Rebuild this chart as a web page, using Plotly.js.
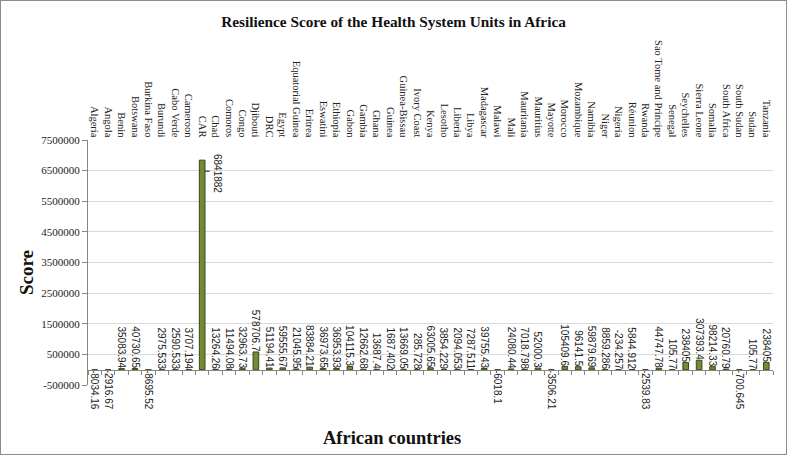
<!DOCTYPE html>
<html>
<head>
<meta charset="utf-8">
<script src="https://cdn.plot.ly/plotly-3.0.1.min.js"></script>
<style>
  body { margin: 0; background: #fff; }
  #grafico { width: 785px; height: 453px; border: 1px solid #8c8c8c; }
</style>
</head>
<body>
<div id="grafico"></div>
<script>
// dados
const paises = [
  'Algeria', 'Angola', 'Benin', 'Botswana', 'Burkina Faso', 'Burundi', 'Cabo Verde',
  'Cameroon', 'CAR', 'Chad', 'Comoros', 'Congo', 'Djibouti', 'DRC', 'Egypt',
  'Equatorial Guinea', 'Eritrea', 'Eswatini', 'Ethiopia', 'Gabon', 'Gambia', 'Ghana',
  'Guinea', 'Guinea-Bissau', 'Ivory Coast', 'Kenya', 'Lesotho', 'Liberia', 'Libya',
  'Madagascar', 'Malawi', 'Mali', 'Mauritania', 'Mauritius', 'Mayotte', 'Morocco',
  'Mozambique', 'Namibia', 'Niger', 'Nigeria', 'Réunion', 'Rwanda',
  'Sao Tome and Principe', 'Senegal', 'Seychelles', 'Sierra Leone', 'Somalia',
  'South Africa', 'South Sudan', 'Sudan', 'Tanzania'
];
const scores = [
  -8034.16, -2916.67, 35083.94, 40730.65, -8695.52, 2975.533, 2590.533,
  3707.194, 6841882, 13264.26, 11494.08, 32963.73, 578706.7, 51194.41, 59555.67,
  21045.95, 83884.21, 36973.65, 36953.93, 104115.3, 12662.68, 13687.4,
  1687.402, 13669.05, 285.728, 63005.65, 3854.229, 2094.053, 7287.511,
  39755.43, -6018.1, 24080.44, 7018.798, 52000.3, -3506.21, 105409.6,
  96141.5, 59879.69, 8859.286, -234.257, 5844.912, -2539.83,
  44747.78, 105.77, 238405, 307393.4, 98214.33,
  20760.79, -700.645, 105.77, 238405
];
const yTicks = [-500000, 500000, 1500000, 2500000, 3500000, 4500000, 5500000, 6500000, 7500000];

const serifa = 'Liberation Serif, Times New Roman, serif';
const semSerifa = 'Liberation Sans, Arial, sans-serif';
const maior = scores.indexOf(Math.max(...scores));

const barras = {
  x: paises,
  y: scores,
  type: 'bar',
  width: 0.42,
  marker: {
    color: '#738a37',
    line: { color: '#3a4618', width: 1 }
  },
  text: scores.map(v => String(v)),
  textposition: scores.map((v, i) => i === maior ? 'none' : 'outside'),
  textangle: 90,
  constraintext: 'none',
  cliponaxis: false,
  textfont: { family: semSerifa, size: 10, color: '#222' },
  hovertemplate: '%{x}: %{y}<extra></extra>'
};

// traço vazio só para desenhar o eixo do zero com as marcas entre categorias
const eixoZero = {
  x: paises.map((p, i) => i),
  y: paises.map(() => 0),
  xaxis: 'x2',
  mode: 'none',
  type: 'scatter',
  hoverinfo: 'skip',
  showlegend: false
};

const layout = {
  width: 785,
  height: 453,
  margin: { t: 139, b: 69, l: 87, r: 13 },
  paper_bgcolor: '#fff',
  plot_bgcolor: '#fff',
  showlegend: false,
  title: {
    text: '<b>Resilience Score of the Health System Units in Africa</b>',
    font: { family: serifa, size: 15.3, color: '#111' },
    x: 0.5,
    xanchor: 'center',
    yref: 'container',
    y: 1 - 21 / 453,
    yanchor: 'middle'
  },
  xaxis: {
    type: 'category',
    side: 'top',
    tickangle: 90,
    ticks: '',
    showline: false,
    showgrid: false,
    zeroline: false,
    tickfont: { family: serifa, size: 10.5, color: '#222' },
    range: [-0.5, paises.length - 0.5]
  },
  xaxis2: {
    overlaying: 'x',
    anchor: 'free',
    position: 500000 / 8000000,
    range: [-0.5, paises.length - 0.5],
    tickmode: 'array',
    tickvals: paises.map((p, i) => i - 0.5).concat([paises.length - 0.5]),
    showticklabels: false,
    ticks: 'outside',
    ticklen: 4,
    tickcolor: '#868686',
    showline: true,
    linecolor: '#868686',
    linewidth: 1,
    showgrid: false,
    zeroline: false
  },
  yaxis: {
    range: [-500000, 7500000],
    tickmode: 'array',
    tickvals: yTicks,
    ticktext: yTicks.map(v => String(v)),
    tickfont: { family: serifa, size: 11, color: '#222' },
    ticks: 'outside',
    ticklen: 5,
    tickcolor: '#868686',
    showline: true,
    linecolor: '#868686',
    gridcolor: '#d9d9d9',
    zeroline: false
  },
  annotations: [
    {
      text: '<b>African countries</b>',
      xref: 'paper', yref: 'paper',
      x: (391 - 87) / 685, y: -0.215,
      xanchor: 'center', yanchor: 'middle',
      showarrow: false,
      font: { family: serifa, size: 18.5, color: '#111' }
    },
    {
      text: '<b>Score</b>',
      xref: 'paper', yref: 'paper',
      x: (25 - 87) / 685, y: (385 - 272) / 245,
      xanchor: 'center', yanchor: 'middle',
      textangle: -90,
      showarrow: false,
      font: { family: serifa, size: 19, color: '#111' }
    },
    {
      // rótulo do CAR deslocado para o lado, como no original
      text: String(scores[maior]),
      x: paises[maior],
      y: scores[maior],
      xref: 'x', yref: 'y',
      textangle: 90,
      showarrow: false,
      xanchor: 'left',
      yanchor: 'top',
      xshift: 8,
      yshift: 8,
      font: { family: semSerifa, size: 10, color: '#222' }
    },
    {
      // linha de ligação curta entre a barra e o rótulo
      text: '',
      x: paises[maior],
      y: scores[maior],
      xref: 'x', yref: 'y',
      showarrow: true,
      arrowhead: 0,
      arrowwidth: 1,
      arrowcolor: '#111',
      standoff: 0,
      ax: 6,
      ay: 0,
      xshift: 3,
      yshift: -11
    }
  ]
};

Plotly.newPlot('grafico', [barras, eixoZero], layout, { displayModeBar: false, responsive: false });
</script>
</body>
</html>
